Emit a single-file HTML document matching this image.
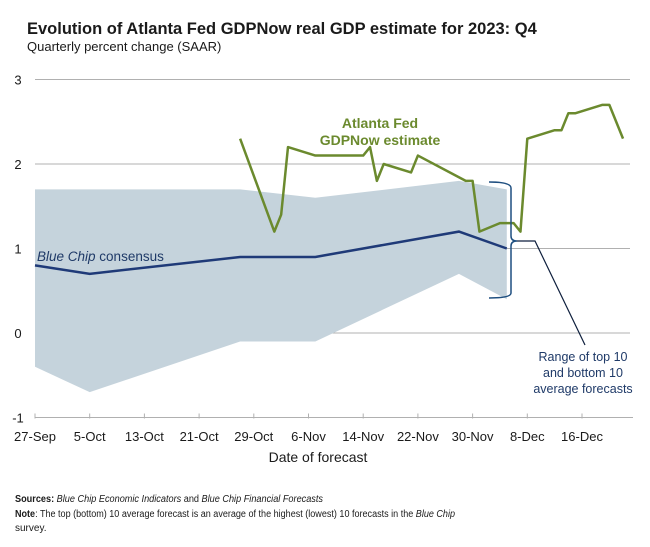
<!DOCTYPE html>
<html><head><meta charset="utf-8"><style>
body{margin:0;background:#fff;font-family:"Liberation Sans",Arial,sans-serif;}
svg text{font-family:"Liberation Sans",Arial,sans-serif;}
</style></head><body>
<svg id="chart" width="650" height="542" viewBox="0 0 650 542">
<text x="27" y="34" font-size="16.5" font-weight="bold" fill="#1a1a1a">Evolution of Atlanta Fed GDPNow real GDP estimate for 2023: Q4</text>
<text x="27" y="51" font-size="13" fill="#1a1a1a">Quarterly percent change (SAAR)</text>
<g id="grid"></g><g id="band"></g><g id="lines"></g><g id="axes"></g>
<text x="380" y="128" font-size="14" font-weight="bold" fill="#6b8a2e" text-anchor="middle">Atlanta Fed</text>
<text x="380" y="145" font-size="14" font-weight="bold" fill="#6b8a2e" text-anchor="middle">GDPNow estimate</text>
<text x="37" y="261" font-size="13.5" fill="#1f3a68"><tspan font-style="italic">Blue Chip</tspan> consensus</text>
<path d="M489,182 Q511,182 511,188 L511,236 Q511,241 517,241 Q511,241 511,246 L511,293 Q511,298 489,298" fill="none" stroke="#1f4f80" stroke-width="1.5"/>
<polyline points="517,241 535,241 585,345" fill="none" stroke="#0e1f3d" stroke-width="1.2"/>
<text x="583" y="361" font-size="12.5" fill="#1f3a68" text-anchor="middle">Range of top 10</text>
<text x="583" y="377" font-size="12.5" fill="#1f3a68" text-anchor="middle">and bottom 10</text>
<text x="583" y="393" font-size="12.5" fill="#1f3a68" text-anchor="middle">average forecasts</text>
<text x="318" y="462" font-size="14" fill="#1a1a1a" text-anchor="middle">Date of forecast</text>
<text x="15" y="502" font-size="10" fill="#1a1a1a" textLength="308" lengthAdjust="spacingAndGlyphs"><tspan font-weight="bold">Sources:</tspan> <tspan font-style="italic">Blue Chip Economic Indicators</tspan> and <tspan font-style="italic">Blue Chip Financial Forecasts</tspan></text>
<text x="15" y="517" font-size="10" fill="#1a1a1a" textLength="440" lengthAdjust="spacingAndGlyphs"><tspan font-weight="bold">Note</tspan>: The top (bottom) 10 average forecast is an average of the highest (lowest) 10 forecasts in the <tspan font-style="italic">Blue Chip</tspan></text>
<text x="15" y="531" font-size="10" fill="#1a1a1a">survey.</text>
</svg>
<script>
const yTicks=[3,2,1,0,-1];
const xTickLabels=["27-Sep","5-Oct","13-Oct","21-Oct","29-Oct","6-Nov","14-Nov","22-Nov","30-Nov","8-Dec","16-Dec"];
const gdpDays=[30,35,36,37,41,48,49,50,51,55,56,63,64,65,68,70,71,72,76,77,78,79,83,84,86];
const gdpValues=[2.3,1.2,1.4,2.2,2.1,2.1,2.2,1.8,2.0,1.9,2.1,1.8,1.8,1.2,1.3,1.3,1.2,2.3,2.4,2.4,2.6,2.6,2.7,2.7,2.3];
const bcDays=[0,8,30,41,62,69];
const bcConsensus=[0.8,0.7,0.9,0.9,1.2,1.0];
const bcTop10=[1.7,1.7,1.7,1.6,1.8,1.7];
const bcBottom10=[-0.4,-0.7,-0.1,-0.1,0.7,0.4];
const NS="http://www.w3.org/2000/svg";
const X=d=>35+d*(54.7/8);
const Y=v=>333-v*84.5;
function mk(tag,attrs,parent){const e=document.createElementNS(NS,tag);for(const k in attrs)e.setAttribute(k,attrs[k]);document.getElementById(parent).appendChild(e);return e;}
yTicks.forEach(v=>{
  if(v>-1){const g=mk('line',{x1:35,x2:630,y1:Y(v),y2:Y(v),stroke:'#b0b0b0','stroke-width':1},'grid');
  
  }
  const t=mk('text',{x:18,y:Y(v)+5,'font-size':13,fill:'#1a1a1a','text-anchor':'middle'},'axes');t.textContent=v;
  
  
});
const ax=mk('line',{x1:35,x2:633,y1:Y(-1),y2:Y(-1),stroke:'#b0b0b0','stroke-width':1},'axes');


xTickLabels.forEach((l,i)=>{
  const x=X(i*8);
  const tk=mk('line',{x1:x,x2:x,y1:Y(-1)-4,y2:Y(-1)+1,stroke:'#b0b0b0'},'axes');
  
  
  const t=mk('text',{x:x,y:441,'font-size':13,fill:'#1a1a1a','text-anchor':'middle'},'axes');t.textContent=l;
  
  
});
let pts=bcDays.map((d,i)=>X(d)+','+Y(bcTop10[i]));
pts=pts.concat(bcDays.map((d,i)=>X(d)+','+Y(bcBottom10[i])).reverse());
const band=mk('polygon',{points:pts.join(' '),fill:'#c5d3dc'},'band');


const bc=mk('polyline',{points:bcDays.map((d,i)=>X(d)+','+Y(bcConsensus[i])).join(' '),fill:'none',stroke:'#1f3a78','stroke-width':2.5},'lines');


const gl=mk('polyline',{points:gdpDays.map((d,i)=>X(d)+','+Y(gdpValues[i])).join(' '),fill:'none',stroke:'#6b8a2e','stroke-width':2.5,'stroke-linejoin':'round'},'lines');


</script>
</body></html>
